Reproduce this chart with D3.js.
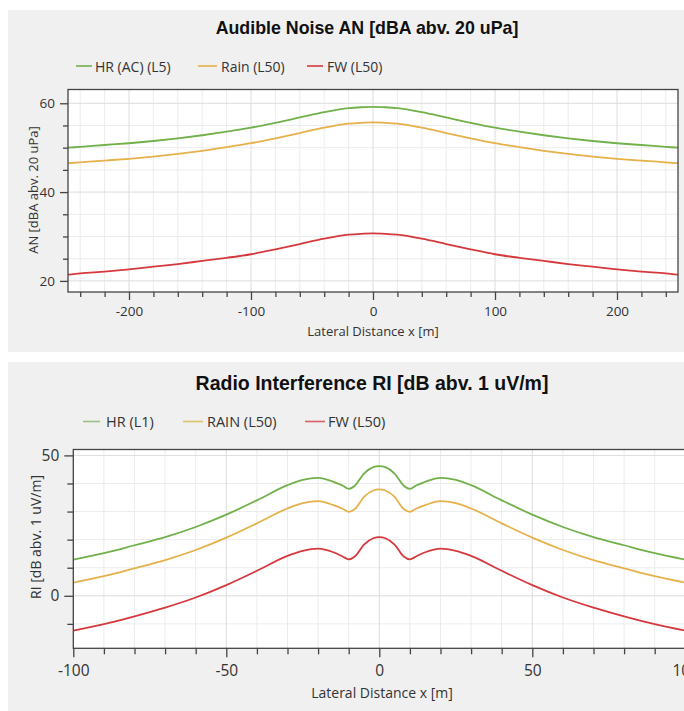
<!DOCTYPE html>
<html>
<head>
<meta charset="utf-8">
<script src="https://cdn.jsdelivr.net/npm/d3@7"></script>
<style>
  html, body { margin: 0; padding: 0; background: #fff; }
  svg { display: block; }
</style>
</head>
<body>
<script>
// ---------- DATA ----------
// Audible Noise (top chart)
const anX    = [-250,-240,-220,-200,-180,-160,-140,-120,-100,-80,-60,-40,-20,-10,0,10,20,40,60,80,100,120,140,160,180,200,220,240,250];
const anHR   = [50.0,50.2,50.6,51.0,51.5,52.1,52.8,53.6,54.5,55.6,56.8,58.0,58.9,59.1,59.2,59.1,58.9,58.0,56.8,55.6,54.5,53.6,52.8,52.1,51.5,51.0,50.6,50.2,50.0];
const anRain = [46.5,46.7,47.1,47.5,48.0,48.6,49.3,50.1,51.0,52.1,53.3,54.5,55.4,55.6,55.7,55.6,55.4,54.5,53.3,52.1,51.0,50.1,49.3,48.6,48.0,47.5,47.1,46.7,46.5];
const anFW   = [21.4,21.7,22.1,22.6,23.2,23.8,24.5,25.2,26.0,27.1,28.3,29.5,30.4,30.6,30.7,30.6,30.4,29.5,28.3,27.1,26.0,25.2,24.5,23.8,23.2,22.6,22.1,21.7,21.4];
const anSeriesNames = ["HR (AC) (L5)", "Rain (L50)", "FW (L50)"];
const anXMajor = [-200,-100,0,100,200];
const anXMinor = [-240,-220,-180,-160,-140,-120,-80,-60,-40,-20,20,40,60,80,120,140,160,180,220,240];
const anYMajor = [20,40,60];
const anYMinor = [25,30,35,45,50,55];

// Radio Interference (bottom chart)
const riX    = [-100,-90,-80,-70,-60,-50,-40,-30,-25,-20,-15,-12,-10,-8,-5,-2,0,2,5,8,10,12,15,20,25,30,40,50,60,70,80,90,100];
const riHR   = [12.9,15.2,18.0,20.9,24.5,28.9,34.0,39.4,41.3,42.0,40.6,39.3,38.1,39.2,43.5,45.8,46.2,45.8,43.5,39.2,38.1,39.3,40.6,42.0,41.3,39.4,34.0,28.9,24.5,20.9,18.0,15.2,12.9];
const riRain = [4.7,7.0,9.8,12.7,16.3,20.7,25.8,31.1,33.0,33.7,32.3,31.0,29.9,30.9,35.2,37.5,37.9,37.5,35.2,30.9,29.9,31.0,32.3,33.7,33.0,31.1,25.8,20.7,16.3,12.7,9.8,7.0,4.7];
const riFW   = [-12.4,-10.1,-7.3,-4.2,-0.6,3.8,8.9,14.2,16.0,16.8,15.5,14.0,13.0,14.0,18.2,20.5,20.9,20.5,18.2,14.0,13.0,14.0,15.5,16.8,16.0,14.2,8.9,3.8,-0.6,-4.2,-7.3,-10.1,-12.4];
const riSeriesNames = ["HR (L1)", "RAIN (L50)", "FW (L50)"];
const riXMajor = [-100,-50,0,50,100];
const riXMinor = [-90,-80,-70,-60,-40,-30,-20,-10,10,20,30,40,60,70,80,90];
const riYMajor = [0,50];
const riYMinor = [-10,10,20,30,40];

const seriesColors = ["#72b04a", "#e5b14a", "#d6393d"];
const legendColorsRI = ["#9cbf82", "#d9c466", "#d95f6a"];

// ---------- DRAW ----------
const W = 684, H = 711;
const svg = d3.select("body").append("svg").attr("width", W).attr("height", H);
svg.append("rect").attr("width", W).attr("height", H).attr("fill", "#fff");

function drawPanel(cfg) {
  const g = svg.append("g");
  g.append("rect").attr("x", cfg.panel[0]).attr("y", cfg.panel[1])
    .attr("width", cfg.panel[2]).attr("height", cfg.panel[3]).attr("fill", "#f0f0f0");

  // title
  g.append("text").attr("x", cfg.titleX).attr("y", cfg.titleY)
    .attr("text-anchor", "middle").attr("dominant-baseline", "central")
    .attr("font-family", "'Liberation Sans', Arial, sans-serif")
    .attr("font-weight", "bold").attr("font-size", cfg.titleSize)
    .attr("fill", "#111").text(cfg.title);

  // legend
  cfg.names.forEach((n, i) => {
    const L = cfg.legend[i];
    g.append("line").attr("x1", L[0]).attr("x2", L[1]).attr("y1", cfg.legendY).attr("y2", cfg.legendY)
      .attr("stroke", cfg.legendColors[i]).attr("stroke-width", 1.6);
    g.append("text").attr("x", L[2]).attr("y", cfg.legendY).attr("dominant-baseline", "central")
      .attr("font-family", "'Open Sans', sans-serif").attr("font-size", cfg.legendSize)
      .attr("fill", "#333").text(n);
  });

  const [px0, py0, px1, py1] = cfg.plot;
  const x = d3.scaleLinear().domain(cfg.xDomain).range([px0, px1]);
  const y = d3.scaleLinear().domain(cfg.yDomain).range([py1, py0]);

  // plot background
  g.append("rect").attr("x", px0).attr("y", py0).attr("width", px1 - px0).attr("height", py1 - py0).attr("fill", "#fff");

  // grid
  const grid = g.append("g");
  cfg.xMinor.forEach(v => grid.append("line").attr("x1", x(v)).attr("x2", x(v)).attr("y1", py0).attr("y2", py1).attr("stroke", "#ececec").attr("stroke-width", 1));
  cfg.yMinor.forEach(v => grid.append("line").attr("y1", y(v)).attr("y2", y(v)).attr("x1", px0).attr("x2", px1).attr("stroke", "#ececec").attr("stroke-width", 1));
  cfg.xMajor.forEach(v => grid.append("line").attr("x1", x(v)).attr("x2", x(v)).attr("y1", py0).attr("y2", py1).attr("stroke", "#dcdcdc").attr("stroke-width", 1));
  cfg.yMajor.forEach(v => grid.append("line").attr("y1", y(v)).attr("y2", y(v)).attr("x1", px0).attr("x2", px1).attr("stroke", "#dcdcdc").attr("stroke-width", 1));

  // lines
  const clipId = "clip" + cfg.id;
  svg.append("defs").append("clipPath").attr("id", clipId)
    .append("rect").attr("x", px0).attr("y", py0).attr("width", px1 - px0).attr("height", py1 - py0);
  const line = d3.line().x(d => x(d[0])).y(d => y(d[1])).curve(d3.curveMonotoneX);
  cfg.series.forEach((s, i) => {
    g.append("path").attr("clip-path", `url(#${clipId})`)
      .datum(cfg.xs.map((xv, k) => [xv, s[k]]))
      .attr("fill", "none").attr("stroke", seriesColors[i]).attr("stroke-width", 1.8)
      .attr("stroke-linejoin", "round")
      .attr("d", line);
  });

  // frame
  g.append("rect").attr("x", px0).attr("y", py0).attr("width", px1 - px0).attr("height", py1 - py0)
    .attr("fill", "none").attr("stroke", "#444").attr("stroke-width", 1.3);

  // axes
  const fontAxis = "'Open Sans', sans-serif";
  const fmt = d => String(d);
  const xa = g.append("g").attr("transform", `translate(0,${py1})`);
  xa.append("g").call(d3.axisBottom(x).tickValues(cfg.xMinor).tickSize(cfg.minorTick).tickFormat(""));
  xa.append("g").call(d3.axisBottom(x).tickValues(cfg.xMajor).tickSize(cfg.majorTick).tickPadding(cfg.xPad).tickFormat(fmt));
  const ya = g.append("g").attr("transform", `translate(${px0},0)`);
  ya.append("g").call(d3.axisLeft(y).tickValues(cfg.yMinor).tickSize(cfg.minorTick).tickFormat(""));
  ya.append("g").call(d3.axisLeft(y).tickValues(cfg.yMajor).tickSize(cfg.majorTick).tickPadding(cfg.yPad).tickFormat(fmt));
  [xa, ya].forEach(a => {
    a.selectAll(".domain").remove();
    a.selectAll(".tick line").attr("stroke", "#444").attr("stroke-width", 1.3);
    a.selectAll("text").attr("font-family", fontAxis).attr("font-size", cfg.tickSize).attr("fill", "#333");
  });

  // axis titles
  g.append("text").attr("x", cfg.xTitle[0]).attr("y", cfg.xTitle[1]).attr("text-anchor", "middle")
    .attr("dominant-baseline", "central").attr("font-family", fontAxis).attr("font-size", cfg.axisTitleSize)
    .attr("fill", "#333").text("Lateral Distance x [m]");
  g.append("text").attr("transform", `translate(${cfg.yTitle[0]},${cfg.yTitle[1]}) rotate(-90)`)
    .attr("text-anchor", "middle").attr("dominant-baseline", "central")
    .attr("font-family", fontAxis).attr("font-size", cfg.axisTitleSize)
    .attr("fill", "#333").text(cfg.yLabel);
}

drawPanel({
  id: "an",
  panel: [8, 10, 676, 342],
  title: "Audible Noise AN [dBA abv. 20 uPa]", titleX: 367, titleY: 28, titleSize: 17.8,
  names: anSeriesNames, legendColors: seriesColors, legendY: 66, legendSize: 14,
  legend: [[76, 92, 95], [198, 217, 221], [307, 323, 327]],
  plot: [68, 89.5, 678, 292],
  xDomain: [-250, 250], yDomain: [17.5, 63.1],
  xs: anX, series: [anHR, anRain, anFW],
  xMajor: anXMajor, xMinor: anXMinor, yMajor: anYMajor, yMinor: anYMinor,
  majorTick: 8, minorTick: 5, xPad: 6, yPad: 5, tickSize: 13.5,
  axisTitleSize: 13, xTitle: [373, 331], yTitle: [33, 190],
  yLabel: "AN [dBA abv. 20 uPa]"
});

drawPanel({
  id: "ri",
  panel: [8, 362, 676, 349],
  title: "Radio Interference RI [dB abv. 1 uV/m]", titleX: 372, titleY: 383, titleSize: 19.5,
  names: riSeriesNames, legendColors: legendColorsRI, legendY: 421.5, legendSize: 14.5,
  legend: [[83, 100, 106], [183, 203, 207], [305, 325, 328]],
  plot: [73.3, 449.5, 685.3, 648.3],
  xDomain: [-100, 100], yDomain: [-18.7, 52.1],
  xs: riX, series: [riHR, riRain, riFW],
  xMajor: riXMajor, xMinor: riXMinor, yMajor: riYMajor, yMinor: riYMinor,
  majorTick: 9, minorTick: 6, xPad: 8, yPad: 5, tickSize: 15.5,
  axisTitleSize: 14, xTitle: [382, 692], yTitle: [35, 537],
  yLabel: "RI [dB abv. 1 uV/m]"
});
</script>
</body>
</html>
